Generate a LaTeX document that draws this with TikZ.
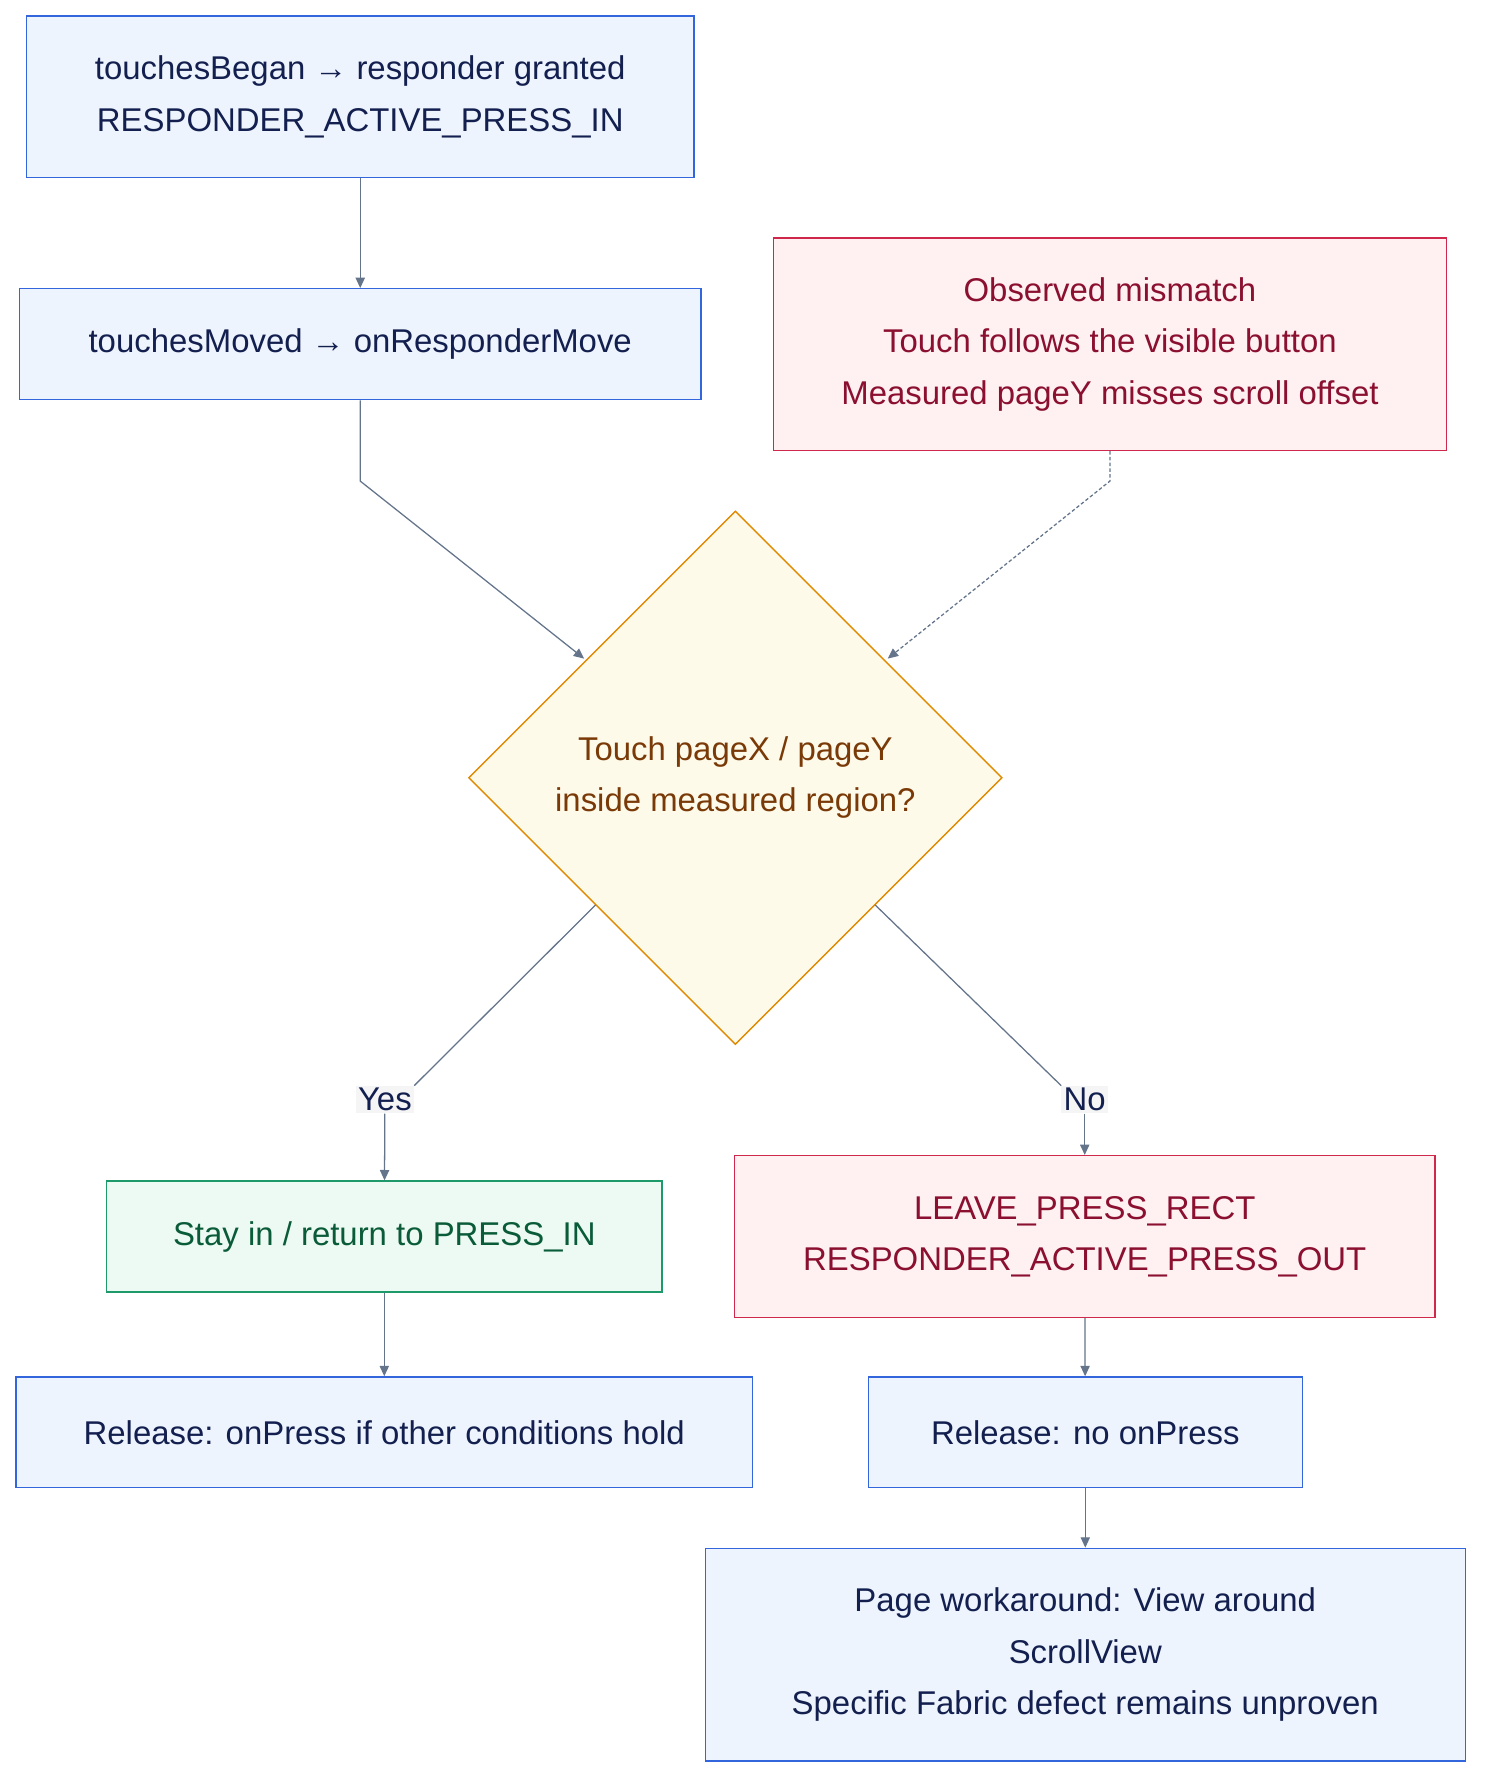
\documentclass[tikz,border=0pt]{standalone}
\usepackage{fontspec}
\setmainfont{Liberation Sans}
\usetikzlibrary{shapes.geometric,arrows.meta}
\definecolor{bfill}{HTML}{EEF4FD}\definecolor{bdraw}{HTML}{3366DD}\definecolor{btext}{HTML}{13204F}
\definecolor{rfill}{HTML}{FFF0F2}\definecolor{rdraw}{HTML}{D0284C}\definecolor{rtext}{HTML}{8B1030}
\definecolor{gfill}{HTML}{ECFAF3}\definecolor{gdraw}{HTML}{1E9A6A}\definecolor{gtext}{HTML}{0A5B38}
\definecolor{dfill}{HTML}{FEFAEA}\definecolor{ddraw}{HTML}{E08A00}\definecolor{dtext}{HTML}{7A3A08}
\definecolor{edge}{HTML}{64748B}
\begin{document}
\begin{tikzpicture}[x=0.992pt,y=-0.992pt,
 every node/.style={font=\fontsize{28.5}{44.5}\selectfont, align=center, inner sep=0},
 box/.style={draw, line width=1.2pt, minimum width=#1},
 blue/.style={fill=bfill, draw=bdraw, text=btext},
 red/.style={fill=rfill, draw=rdraw, text=rtext},
 green/.style={fill=gfill, draw=gdraw, text=gtext},
 e/.style={draw=edge, line width=1.1pt, -{Triangle[length=9pt,width=8pt]}},
 lab/.style={fill=gray!8, text=btext, inner sep=2pt}]
\useasboundingbox (0,0) rectangle (1296,1554);
\node[box=578pt, minimum height=140pt, blue] (A) at (314.5,84.5) {touchesBegan → responder granted\\RESPONDER\_ACTIVE\_PRESS\_IN};
\node[box=590pt, minimum height=96pt, blue] (B) at (314.5,300.5) {touchesMoved → onResponderMove};
\node[box=583pt, minimum height=184pt, red] (C) at (969,300.5) {Observed mismatch\\Touch follows the visible button\\Measured pageY misses scroll offset};
\node[diamond, draw=ddraw, fill=dfill, text=dtext, line width=1.2pt, minimum width=462pt, minimum height=462pt] (D) at (642,679) {Touch pageX / pageY\\inside measured region?};
\node[box=481pt, minimum height=96pt, green] (E) at (335.5,1079.5) {Stay in / return to PRESS\_IN};
\node[box=607pt, minimum height=140pt, red] (F) at (947,1079.5) {LEAVE\_PRESS\_RECT\\RESPONDER\_ACTIVE\_PRESS\_OUT};
\node[box=638pt, minimum height=96pt, blue] (G) at (335.5,1250.5) {Release: onPress if other conditions hold};
\node[box=376pt, minimum height=96pt, blue] (H) at (947.5,1250.5) {Release: no onPress};
\node[box=658pt, minimum height=184pt, blue] (I) at (947.5,1444.5) {Page workaround: View around\\ScrollView\\Specific Fabric defect remains unproven};
\node[lab] (Y) at (336,960) {Yes};
\node[lab] (N) at (947,960) {No};
\coordinate (b1) at (314.5,420); \coordinate (c1) at (969,420);
\draw[e] (A) -- (B);
\draw[e] (B.south) -- (b1) -- (510,575);
\draw[e, dash pattern=on 3pt off 2pt] (C.south) -- (c1) -- (775,575);
\draw[draw=edge, line width=1.1pt] (520,790) -- (Y.north east);
\draw[draw=edge, line width=1.1pt] (764,790) -- (N.north west);
\draw[e] (Y) -- (E);
\draw[e] (N) -- (F);
\draw[e] (E) -- (G);
\draw[e] (F) -- (H);
\draw[e] (H) -- (I);
\end{tikzpicture}
\end{document}
